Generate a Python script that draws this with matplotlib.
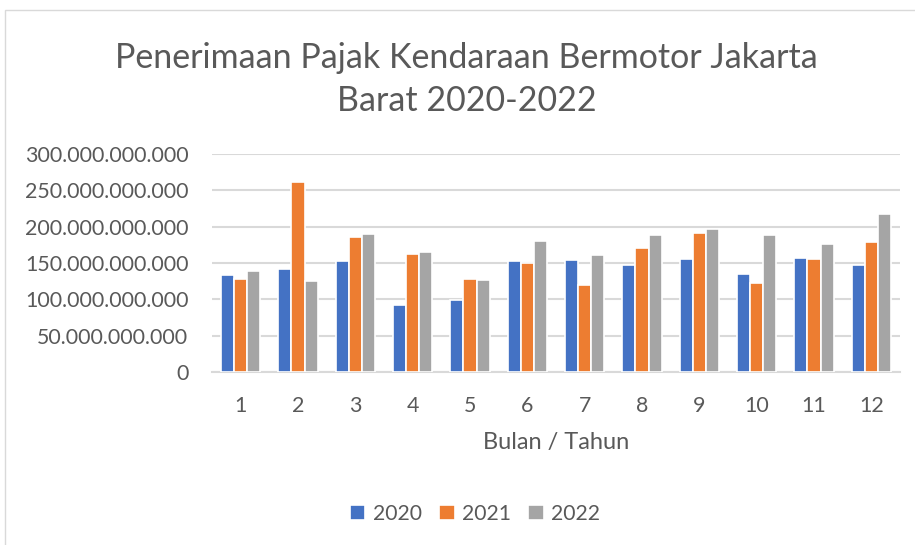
import matplotlib
matplotlib.use("Agg")
import matplotlib.pyplot as plt
from matplotlib.ticker import FuncFormatter
from matplotlib.patches import Rectangle
import numpy as np

plt.rcParams['font.family'] = ['Lato', 'DejaVu Sans']

# data (rupiah)
bulan = ['1', '2', '3', '4', '5', '6', '7', '8', '9', '10', '11', '12']
pajak_2020 = [133.0e9, 142.2e9, 152.3e9, 92.2e9, 98.6e9, 152.3e9,
              153.7e9, 147.2e9, 155.5e9, 134.9e9, 156.9e9, 146.8e9]
pajak_2021 = [128.0e9, 261.0e9, 185.3e9, 161.9e9, 127.5e9, 150.0e9,
              119.3e9, 170.6e9, 191.7e9, 122.5e9, 155.0e9, 178.4e9]
pajak_2022 = [139.0e9, 125.2e9, 189.9e9, 165.6e9, 126.1e9, 179.8e9,
              160.5e9, 189.0e9, 196.8e9, 189.0e9, 175.7e9, 217.4e9]
tahun = ['2020', '2021', '2022']
warna = ['#4472C4', '#ED7D31', '#A5A5A5']
teks = '#595959'

fig = plt.figure(figsize=(9.15, 5.45), dpi=100)
fig.patches.append(Rectangle((5 / 915, -0.1), 1.2, 1.1 - 10 / 545,
                             transform=fig.transFigure, fill=False,
                             edgecolor='#d9d9d9', linewidth=1))

ax = fig.add_axes([212 / 915, 1 - 372 / 545, (900 - 212) / 915, (372 - 154) / 545])

x = np.arange(len(bulan))
w = 0.227
for i, (vals, lab) in enumerate(zip([pajak_2020, pajak_2021, pajak_2022], tahun)):
    ax.bar(x + (i - 1) * w, vals, width=w, color=warna[i], label=lab,
           edgecolor='white', linewidth=1.2, zorder=3)

ax.set_xlim(-0.5, len(bulan) - 0.5)
ax.set_ylim(0, 300e9)
ax.set_yticks(np.arange(0, 300e9 + 1, 50e9))
ax.yaxis.set_major_formatter(FuncFormatter(lambda v, p: f'{int(round(v)):,}'.replace(',', '.')))
ax.set_xticks(x)
ax.set_xticklabels(bulan)
ax.grid(axis='y', color='#d9d9d9', linewidth=1.5, zorder=0)
for s in ['top', 'right', 'left']:
    ax.spines[s].set_visible(False)
ax.spines['bottom'].set_color('#d9d9d9')
ax.spines['bottom'].set_linewidth(1.5)
ax.tick_params(length=0, labelsize=15.4, colors=teks)
ax.tick_params(axis='y', pad=17)
ax.tick_params(axis='x', pad=17)
ax.set_xlabel('Bulan / Tahun', fontsize=17, color=teks, labelpad=12)

fig.text(0.51, 1 - 58 / 545, 'Penerimaan Pajak Kendaraan Bermotor Jakarta',
         ha='center', va='center', fontsize=24.5, color=teks)
fig.text(0.51, 1 - 101 / 545, 'Barat 2020-2022',
         ha='center', va='center', fontsize=24.5, color=teks)

fig.legend(loc='center', bbox_to_anchor=(0.519, 1 - 514 / 545), ncol=3,
           frameon=False, fontsize=15.2, handlelength=0.75, handleheight=0.75,
           handletextpad=0.35, columnspacing=0.8, labelcolor=teks)

fig.savefig('out.png', dpi=100)
